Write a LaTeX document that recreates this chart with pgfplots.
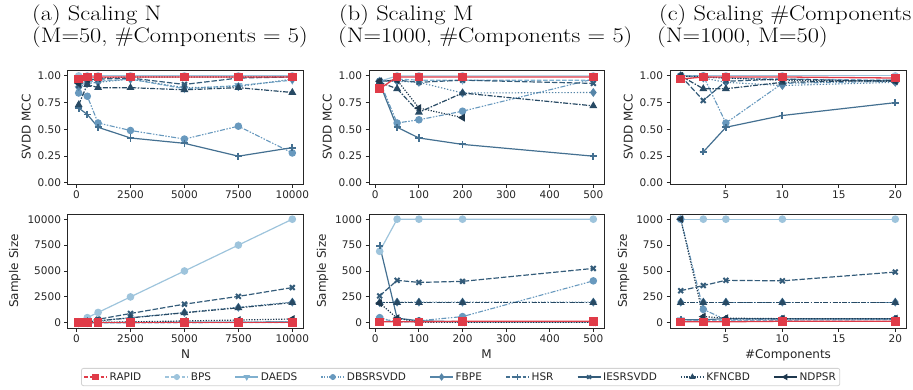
\documentclass[border=0pt]{standalone}
\usepackage{graphicx}
\usepackage{pgfplots}
\pgfplotsset{compat=1.18}
\usepackage{fontspec}
\newfontfamily\dv{DejaVu Sans}
\definecolor{cRAPID}{RGB}{224,59,72}
\definecolor{cBPS}{RGB}{158,196,220}
\definecolor{cDAEDS}{RGB}{128,176,207}
\definecolor{cDBS}{RGB}{104,153,190}
\definecolor{cFBPE}{RGB}{86,133,168}
\definecolor{cHSR}{RGB}{68,112,145}
\definecolor{cIES}{RGB}{52,92,122}
\definecolor{cKFN}{RGB}{40,74,100}
\definecolor{cNDP}{RGB}{30,56,78}
\definecolor{frm}{RGB}{38,38,38}
\definecolor{lgfrm}{RGB}{210,210,210}
\pgfplotsset{
 pRAPID/.style={cRAPID, line width=1.3pt, solid, mark=square*, mark size=3.6pt, mark options={solid}},
 pBPS/.style={cBPS, line width=1.2pt, solid, mark=*, mark size=3.2pt, mark options={solid}},
 pDAEDS/.style={cDAEDS, line width=1.2pt, dash pattern=on 4.5pt off 1.8pt, mark=triangle*, mark size=3.4pt, mark options={solid, rotate=180}},
 pDBS/.style={cDBS, line width=1.1pt, dash pattern=on 5pt off 1.5pt on 1.5pt off 1.5pt on 1.5pt off 1.5pt, mark=*, mark size=3.2pt, mark options={solid}},
 pFBPE/.style={cFBPE, line width=1.1pt, dash pattern=on 1.3pt off 1.8pt, mark=diamond*, mark size=3.6pt, mark options={solid}},
 pHSR/.style={cHSR, line width=1.2pt, solid, mark=+, mark size=3.6pt, mark options={solid, line width=1.8pt}},
 pIES/.style={cIES, line width=1.2pt, dash pattern=on 5.5pt off 2pt, mark=x, mark size=3.4pt, mark options={solid, line width=2pt}},
 pKFN/.style={cKFN, line width=1.2pt, dash pattern=on 5pt off 1.5pt on 1.5pt off 1.5pt, mark=triangle*, mark size=3.4pt, mark options={solid}},
 pNDP/.style={cNDP, line width=1.2pt, dash pattern=on 1.2pt off 1.5pt, mark=triangle*, mark size=3.4pt, mark options={solid, rotate=90}},
 base/.style={scale only axis, width=235pt, height=114pt,
   axis line style={draw=frm, line width=1pt},
   tick style={draw=frm, line width=0.9pt},
   tick align=outside, major tick length=3.5pt,
   xtick pos=bottom, ytick pos=left,
   tick label style={font=\dv\fontsize{10.5}{12}\selectfont, text=frm},
   label style={font=\dv\fontsize{12}{14}\selectfont, text=frm},
   /pgf/number format/assume math mode=true,
   /pgf/number format/1000 sep={},
   scaled ticks=false, clip=false},
 topr/.style={base, ymin=-0.01, ymax=1.055, ytick={0,0.25,0.5,0.75,1},
   yticklabel style={/pgf/number format/.cd, fixed, fixed zerofill, precision=2},
   ylabel={SVDD MCC}},
 botr/.style={base, ylabel={Sample Size}},
 colA/.style={xmin=-395, xmax=10495, xtick={0,2500,5000,7500,10000}},
 colB/.style={xmin=-14.5, xmax=524.5, xtick={0,100,200,300,400,500}},
 colC/.style={xmin=0.05, xmax=20.95, xtick={0,5,10,15,20}, width=236pt},
}
\newcommand{\ttl}[1]{\scalebox{1.16}[1]{#1}}
\begin{document}
\begin{tikzpicture}
\useasboundingbox (0,0) rectangle (913pt,-389pt);
% ---------- (a) top
\begin{axis}[topr, colA, at={(68pt,-184pt)}, anchor=south west]
\addplot[pBPS] coordinates {(100,1.0)(500,1.0)(1000,1.0)(2500,1.0)(5000,1.0)(7500,1.0)(10000,1.0)};
\addplot[pDAEDS] coordinates {(100,0.88)(500,0.95)(1000,0.95)(2500,0.97)(5000,0.88)(7500,0.91)(10000,0.96)};
\addplot[pDBS] coordinates {(100,0.84)(500,0.81)(1000,0.56)(2500,0.49)(5000,0.41)(7500,0.53)(10000,0.28)};
\addplot[pFBPE] coordinates {(100,0.90)(500,0.93)(1000,0.94)(2500,0.97)(5000,0.89)(7500,0.90)(10000,0.97)};
\addplot[pHSR] coordinates {(100,0.70)(500,0.64)(1000,0.52)(2500,0.42)(5000,0.37)(7500,0.25)(10000,0.33)};
\addplot[pIES] coordinates {(100,0.91)(500,0.96)(1000,0.97)(2500,0.98)(5000,0.92)(7500,0.98)(10000,0.99)};
\addplot[pKFN] coordinates {(100,0.73)(500,0.92)(1000,0.89)(2500,0.89)(5000,0.87)(7500,0.89)(10000,0.845)};
\addplot[pNDP] coordinates {(100,0.93)(500,0.97)(1000,0.98)(2500,0.99)(5000,0.99)(7500,0.99)(10000,0.99)};
\addplot[pRAPID] coordinates {(100,0.97)(500,0.99)(1000,0.99)(2500,0.99)(5000,0.99)(7500,0.99)(10000,0.99)};
\end{axis}
% ---------- (b) top
\begin{axis}[topr, colB, at={(369pt,-184pt)}, anchor=south west]
\addplot[pBPS] coordinates {(10,0.95)(50,1.0)(100,1.0)(200,1.0)(500,1.0)};
\addplot[pDAEDS] coordinates {(10,0.94)(50,0.97)(100,0.96)(200,0.96)(500,0.96)};
\addplot[pDBS] coordinates {(10,0.95)(50,0.56)(100,0.59)(200,0.67)(500,0.97)};
\addplot[pFBPE] coordinates {(10,0.95)(50,0.95)(100,0.94)(200,0.84)(500,0.845)};
\addplot[pHSR] coordinates {(10,0.93)(50,0.52)(100,0.42)(200,0.36)(500,0.25)};
\addplot[pIES] coordinates {(10,0.95)(50,0.96)(100,0.94)(200,0.96)(500,0.93)};
\addplot[pKFN] coordinates {(10,0.94)(50,0.88)(100,0.66)(200,0.84)(500,0.72)};
\addplot[pNDP] coordinates {(10,0.95)(50,0.96)(100,0.70)(200,0.61)};
\addplot[pRAPID] coordinates {(10,0.88)(50,0.99)(100,0.99)(200,0.99)(500,0.99)};
\end{axis}
% ---------- (c) top
\begin{axis}[topr, colC, at={(670pt,-184pt)}, anchor=south west]
\addplot[pBPS] coordinates {(1,1.0)(3,1.0)(5,1.0)(10,1.0)(20,1.0)};
\addplot[pDAEDS] coordinates {(1,1.0)(3,0.99)(5,0.98)(10,0.97)(20,0.96)};
\addplot[pDBS] coordinates {(1,1.0)(3,1.0)(5,0.56)(10,0.93)(20,0.95)};
\addplot[pFBPE] coordinates {(1,1.0)(3,0.98)(5,0.94)(10,0.91)(20,0.94)};
\addplot[pHSR] coordinates {(3,0.29)(5,0.52)(10,0.63)(20,0.75)};
\addplot[pIES] coordinates {(1,1.0)(3,0.77)(5,0.95)(10,0.97)(20,0.95)};
\addplot[pKFN] coordinates {(1,1.0)(3,0.88)(5,0.88)(10,0.94)(20,0.96)};
\addplot[pNDP] coordinates {(1,1.0)(3,0.99)(5,0.98)(10,0.96)(20,0.95)};
\addplot[pRAPID] coordinates {(1,0.97)(3,0.99)(5,0.99)(10,0.99)(20,0.98)};
\end{axis}
% ---------- (a) bottom
\begin{axis}[botr, colA, at={(68pt,-328pt)}, anchor=south west, xlabel={N},
  ymin=-500, ymax=10500, ytick={0,2500,5000,7500,10000}]
\addplot[pBPS] coordinates {(100,100)(500,500)(1000,1000)(2500,2500)(5000,5000)(7500,7500)(10000,10000)};
\addplot[pDAEDS] coordinates {(100,5)(500,10)(1000,10)(2500,15)(5000,15)(7500,20)(10000,20)};
\addplot[pDBS] coordinates {(100,10)(500,15)(1000,20)(2500,30)(5000,40)(7500,50)(10000,60)};
\addplot[pFBPE] coordinates {(100,20)(500,100)(1000,200)(2500,500)(5000,1000)(7500,1500)(10000,2000)};
\addplot[pHSR] coordinates {(100,10)(500,20)(1000,30)(2500,40)(5000,50)(7500,60)(10000,80)};
\addplot[pIES] coordinates {(100,35)(500,170)(1000,340)(2500,900)(5000,1800)(7500,2550)(10000,3400)};
\addplot[pKFN] coordinates {(100,20)(500,95)(1000,195)(2500,480)(5000,970)(7500,1450)(10000,1950)};
\addplot[pNDP] coordinates {(100,5)(500,20)(1000,40)(2500,90)(5000,180)(7500,270)(10000,370)};
\addplot[pRAPID] coordinates {(100,10)(500,10)(1000,10)(2500,10)(5000,10)(7500,10)(10000,10)};
\end{axis}
% ---------- (b) bottom (holds legend)
\begin{axis}[botr, colB, at={(369pt,-328pt)}, anchor=south west, xlabel={M},
  ymin=-50, ymax=1050, ytick={0,250,500,750,1000},
  legend columns=9,
  legend image code/.code={\draw[mark repeat=2, mark phase=2, #1] plot coordinates {(0pt,0pt) (11.5pt,0pt) (23pt,0pt)};},
  legend style={at={(0.39,-0.43)}, anchor=center, draw=lgfrm, line width=0.8pt, rounded corners=2pt,
    font=\dv\fontsize{10.5}{12}\selectfont, text=frm, inner sep=2pt,
    /tikz/every even column/.append style={column sep=21.5pt}}]
\addlegendimage{cRAPID, line width=1.2pt, dash pattern=on 3.5pt off 2pt, mark=square*, mark size=2.6pt, mark options={solid}}
\addlegendentry{RAPID}
\addlegendimage{cBPS, line width=1.2pt, dash pattern=on 3.5pt off 2pt, mark=*, mark size=2.4pt, mark options={solid}}
\addlegendentry{BPS}
\addlegendimage{cDAEDS, line width=1.2pt, solid, mark=triangle*, mark size=2.6pt, mark options={solid, rotate=180}}
\addlegendentry{DAEDS}
\addlegendimage{cDBS, line width=1.1pt, dash pattern=on 1.2pt off 1.5pt, mark=*, mark size=2.4pt, mark options={solid}}
\addlegendentry{DBSRSVDD}
\addlegendimage{cFBPE, line width=1.2pt, solid, mark=diamond*, mark size=2.8pt, mark options={solid}}
\addlegendentry{FBPE}
\addlegendimage{cHSR, line width=1.2pt, dash pattern=on 3.5pt off 2pt, mark=+, mark size=2.8pt, mark options={solid, line width=1.5pt}}
\addlegendentry{HSR}
\addlegendimage{cIES, line width=1.2pt, solid, mark=x, mark size=2.6pt, mark options={solid, line width=1.7pt}}
\addlegendentry{IESRSVDD}
\addlegendimage{cKFN, line width=1.1pt, dash pattern=on 1.2pt off 1.5pt, mark=triangle*, mark size=2.6pt, mark options={solid}}
\addlegendentry{KFNCBD}
\addlegendimage{cNDP, line width=1.2pt, solid, mark=triangle*, mark size=2.6pt, mark options={solid, rotate=90}}
\addlegendentry{NDPSR}
\addplot[pBPS, forget plot] coordinates {(10,690)(50,1000)(100,1000)(200,1000)(500,1000)};
\addplot[pDAEDS, forget plot] coordinates {(10,40)(50,10)(100,10)(200,10)(500,10)};
\addplot[pDBS, forget plot] coordinates {(10,50)(50,5)(100,20)(200,60)(500,405)};
\addplot[pFBPE, forget plot] coordinates {(10,195)(50,200)(100,200)(200,200)(500,200)};
\addplot[pHSR, forget plot] coordinates {(10,745)(50,45)(100,20)(200,10)(500,10)};
\addplot[pIES, forget plot] coordinates {(10,260)(50,410)(100,390)(200,400)(500,525)};
\addplot[pKFN, forget plot] coordinates {(10,195)(50,195)(100,195)(200,195)(500,195)};
\addplot[pNDP, forget plot] coordinates {(10,190)(50,45)(100,5)(200,5)(500,5)};
\addplot[pRAPID, forget plot] coordinates {(10,10)(50,10)(100,10)(200,15)(500,15)};
\end{axis}
% ---------- (c) bottom
\begin{axis}[botr, colC, at={(670pt,-328pt)}, anchor=south west, xlabel={\#Components},
  ymin=-50, ymax=1050, ytick={0,250,500,750,1000}]
\addplot[pBPS] coordinates {(1,1000)(3,1000)(5,1000)(10,1000)(20,1000)};
\addplot[pDAEDS] coordinates {(1,30)(3,20)(5,20)(10,25)(20,30)};
\addplot[pDBS] coordinates {(1,1000)(3,130)(5,30)(10,35)(20,35)};
\addplot[pFBPE] coordinates {(1,200)(3,200)(5,200)(10,200)(20,200)};
\addplot[pHSR] coordinates {(1,30)(3,30)(5,40)(10,40)(20,40)};
\addplot[pIES] coordinates {(1,310)(3,360)(5,410)(10,405)(20,490)};
\addplot[pKFN] coordinates {(1,195)(3,195)(5,195)(10,195)(20,195)};
\addplot[pNDP] coordinates {(1,1000)(3,60)(5,45)(10,40)(20,40)};
\addplot[pRAPID] coordinates {(1,10)(3,10)(5,10)(10,15)(20,15)};
\end{axis}
% ---------- titles
\begin{scope}[every node/.style={anchor=base west, inner sep=0pt, font=\fontsize{21}{25}\selectfont}]
\node at (32pt,-20pt) {\ttl{(a) Scaling N}};
\node at (32pt,-42pt) {\ttl{(M=50, \#Components = 5)}};
\node at (339pt,-20pt) {\ttl{(b) Scaling M}};
\node at (338pt,-42pt) {\ttl{(N=1000, \#Components = 5)}};
\node at (659pt,-20pt) {\ttl{(c) Scaling \#Components}};
\node at (657pt,-42pt) {\ttl{(N=1000, M=50)}};
\end{scope}
\end{tikzpicture}
\end{document}
